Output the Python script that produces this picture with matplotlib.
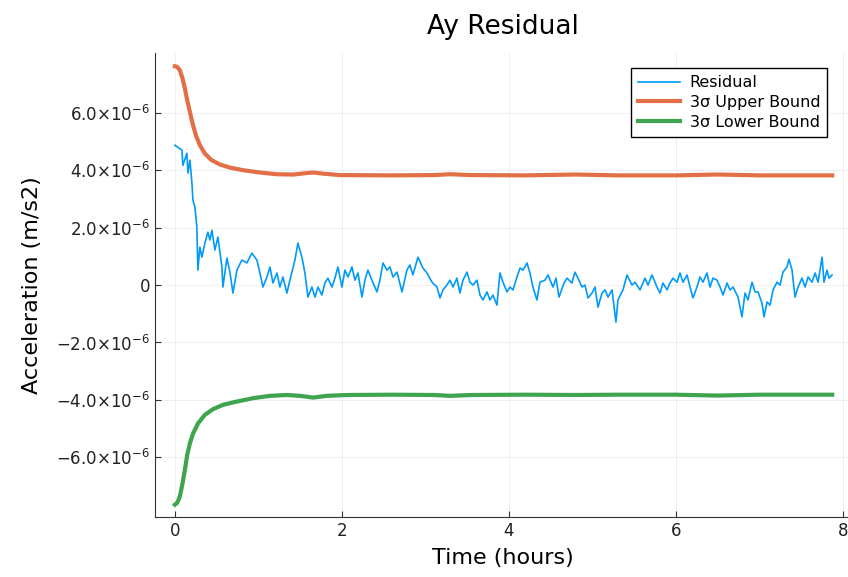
import matplotlib.pyplot as plt
import numpy as np

# residual values (hours, units of 1e-6 m/s2)
t_res = [0.000, 0.036, 0.084, 0.096, 0.144, 0.156, 0.180, 0.204, 0.216, 0.240,
         0.263, 0.275, 0.299, 0.323, 0.359, 0.395, 0.419, 0.443, 0.479, 0.515,
         0.563, 0.575, 0.623, 0.659, 0.695, 0.743, 0.802, 0.862, 0.922, 0.982,
         1.018, 1.054, 1.102, 1.138, 1.174, 1.222, 1.257, 1.293, 1.341, 1.377,
         1.437, 1.473, 1.521, 1.557, 1.593, 1.641, 1.677, 1.713, 1.760, 1.796,
         1.832, 1.880, 1.916, 1.952, 2.000, 2.036, 2.072, 2.120, 2.156, 2.192,
         2.240, 2.275, 2.311, 2.359, 2.419, 2.455, 2.491, 2.539, 2.575, 2.611,
         2.659, 2.719, 2.778, 2.814, 2.850, 2.910, 2.970, 3.018, 3.078, 3.138,
         3.174, 3.210, 3.257, 3.293, 3.329, 3.377, 3.413, 3.449, 3.497, 3.533,
         3.569, 3.617, 3.653, 3.689, 3.737, 3.772, 3.808, 3.856, 3.892, 3.928,
         3.976, 4.012, 4.048, 4.096, 4.132, 4.168, 4.216, 4.251, 4.287, 4.335,
         4.371, 4.431, 4.467, 4.527, 4.563, 4.599, 4.659, 4.695, 4.754, 4.790,
         4.826, 4.874, 4.910, 4.946, 4.994, 5.030, 5.066, 5.114, 5.150, 5.186,
         5.234, 5.281, 5.305, 5.365, 5.413, 5.473, 5.509, 5.569, 5.629, 5.665,
         5.713, 5.772, 5.808, 5.844, 5.892, 5.928, 5.964, 6.012, 6.048, 6.084,
         6.132, 6.168, 6.204, 6.251, 6.287, 6.323, 6.371, 6.407, 6.443, 6.491,
         6.527, 6.563, 6.611, 6.647, 6.683, 6.743, 6.790, 6.826, 6.862, 6.910,
         6.946, 6.982, 7.030, 7.054, 7.090, 7.126, 7.162, 7.210, 7.246, 7.281,
         7.329, 7.353, 7.389, 7.425, 7.461, 7.509, 7.545, 7.581, 7.629, 7.665,
         7.701, 7.749, 7.772, 7.808, 7.832, 7.868]
residual = [4.87, 4.80, 4.70, 4.17, 4.59, 3.90, 4.35, 3.55, 2.96, 2.71,
            2.02, 0.52, 1.32, 0.97, 1.46, 1.84, 1.57, 1.91, 1.22, 1.67,
            0.63, -0.07, 0.94, 0.45, -0.28, 0.52, 0.87, 0.77, 1.11, 0.87,
            0.42, -0.07, 0.28, 0.63, 0.07, 0.42, -0.07, 0.28, -0.28, 0.17,
            0.87, 1.46, 0.97, 0.42, -0.42, -0.07, -0.42, -0.07, -0.35, 0.07,
            0.24, -0.07, 0.24, 0.63, -0.07, 0.52, 0.28, 0.63, 0.17, 0.42,
            -0.42, 0.17, 0.52, 0.17, -0.24, 0.17, 0.77, 0.52, 0.63, 0.28,
            0.45, -0.24, 0.52, 0.70, 0.35, 0.97, 0.59, 0.42, 0.10, -0.07,
            -0.45, -0.17, 0.00, 0.17, -0.07, 0.24, -0.28, 0.17, 0.45, 0.10,
            0.00, 0.17, -0.35, -0.52, -0.24, -0.52, -0.35, -0.70, 0.42, 0.10,
            -0.24, -0.07, -0.17, 0.28, 0.59, 0.52, 0.77, 0.42, -0.07, -0.52,
            0.10, 0.17, 0.35, -0.07, 0.24, -0.42, 0.07, 0.24, 0.07, 0.45,
            0.24, -0.07, 0.00, -0.45, -0.28, -0.07, -0.77, -0.28, -0.17, -0.42,
            -0.17, -1.29, -0.52, -0.17, 0.35, 0.00, 0.10, -0.17, 0.24, 0.00,
            0.35, -0.07, -0.28, 0.07, -0.17, 0.07, 0.24, 0.10, 0.42, 0.10,
            0.35, -0.07, -0.45, -0.07, 0.28, 0.10, 0.42, -0.07, 0.24, 0.17,
            -0.07, -0.35, 0.07, -0.17, -0.07, -0.42, -1.11, -0.28, -0.52, 0.10,
            -0.24, -0.24, -0.63, -1.11, -0.59, -0.70, -0.17, 0.10, 0.00, 0.45,
            0.63, 0.90, 0.52, -0.42, -0.07, 0.24, -0.07, 0.28, 0.10, 0.42,
            0.10, 0.97, 0.10, 0.52, 0.24, 0.35]

# 3 sigma bounds
t_upper = [0.000, 0.028, 0.060, 0.092, 0.120, 0.148, 0.180, 0.212, 0.251, 0.299,
           0.359, 0.439, 0.539, 0.659, 0.818, 1.018, 1.218, 1.417, 1.577, 1.657,
           1.776, 1.976, 2.600, 3.100, 3.300, 3.550, 4.200, 4.800, 5.300, 6.000,
           6.500, 7.000, 7.870]
upper = [7.62, 7.60, 7.48, 7.19, 6.84, 6.43, 6.03, 5.62, 5.22, 4.87,
         4.58, 4.35, 4.20, 4.09, 4.00, 3.92, 3.86, 3.85, 3.90, 3.92,
         3.88, 3.83, 3.82, 3.83, 3.86, 3.83, 3.82, 3.85, 3.82, 3.82,
         3.85, 3.82, 3.82]
t_lower = [0.000, 0.028, 0.060, 0.092, 0.120, 0.148, 0.180, 0.219, 0.279, 0.359,
           0.459, 0.579, 0.739, 0.938, 1.138, 1.337, 1.497, 1.657, 1.816, 2.056,
           2.600, 3.100, 3.300, 3.550, 4.200, 4.800, 5.300, 6.000, 6.500, 7.000,
           7.870]
lower = [-7.65, -7.59, -7.36, -6.90, -6.43, -5.91, -5.51, -5.16, -4.81, -4.52,
         -4.32, -4.17, -4.06, -3.94, -3.86, -3.83, -3.86, -3.92, -3.86, -3.83,
         -3.82, -3.83, -3.86, -3.83, -3.82, -3.83, -3.82, -3.82, -3.85, -3.82,
         -3.82]

y_ticks = [-6, -4, -2, 0, 2, 4, 6]
x_ticks = [0, 2, 4, 6, 8]


def ylab(v):
    if v == 0:
        return "0"
    return r"$%.1f{\times}10^{-6}$" % v


fig = plt.figure(figsize=(8.48, 5.77), dpi=100)
ax = fig.add_axes([0.183, 0.104, 0.821, 0.804])

scale = 1e-6
ax.plot(t_res, np.array(residual) * scale, color="#009AFA", lw=1.2, label="Residual")
ax.plot(t_upper, np.array(upper) * scale, color="#E26F46", lw=3.0,
        solid_joinstyle="round", label="3σ Upper Bound")
ax.plot(t_lower, np.array(lower) * scale, color="#3EA44E", lw=3.0,
        solid_joinstyle="round", label="3σ Lower Bound")

ax.set_xlim(-0.236, 8.10)
ax.set_ylim(-8.08e-6, 8.08e-6)
ax.set_xticks(x_ticks)
ax.set_yticks([v * scale for v in y_ticks])
ax.set_yticklabels([ylab(v) for v in y_ticks])
ax.tick_params(direction="in", labelsize=12, color="#333333", length=4,
               labelcolor="#222222")
ax.grid(True, color="#000000", alpha=0.07, lw=0.6)

for s in ["top", "right"]:
    ax.spines[s].set_visible(False)
for s in ["left", "bottom"]:
    ax.spines[s].set_color("#333333")

ax.set_title("Ay Residual", fontsize=19, pad=14)
ax.set_xlabel("Time (hours)", fontsize=16, labelpad=6)
ax.set_ylabel("Acceleration (m/s2)", fontsize=16, labelpad=10)

leg = ax.legend(loc="upper right", fontsize=11.5, fancybox=False, framealpha=1,
                edgecolor="black", handlelength=2.6, borderpad=0.45,
                labelspacing=0.3, handletextpad=0.6,
                bbox_to_anchor=(0.977, 0.985))
leg.get_frame().set_linewidth(1.0)

fig.savefig("out.png", dpi=100)
